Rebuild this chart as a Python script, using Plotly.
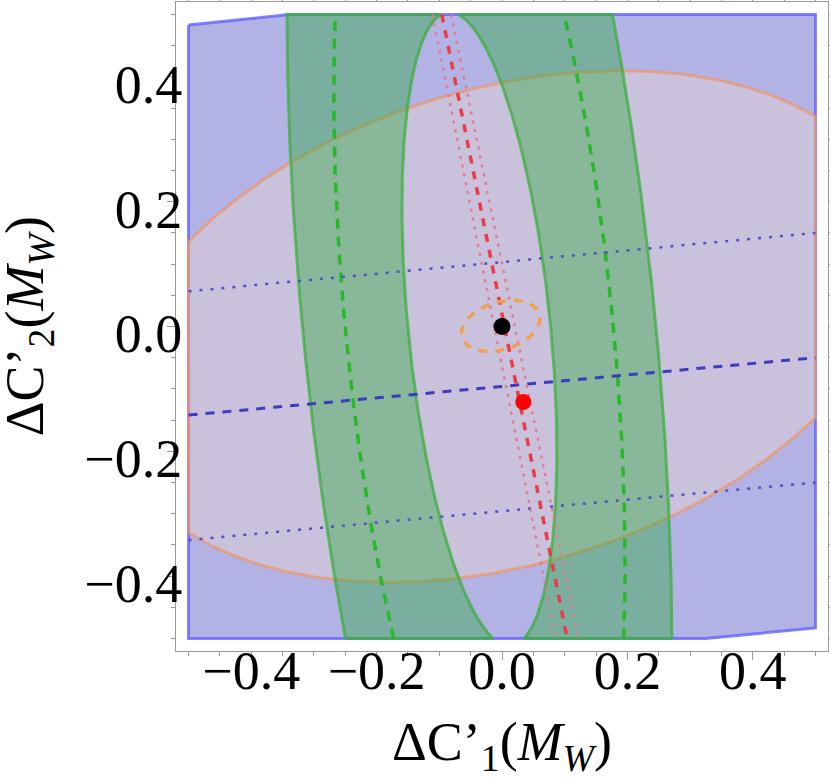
import numpy as np
import plotly.graph_objects as go

# ---------------- data ----------------
x_range = [-0.52, 0.52]
y_range = [-0.52, 0.52]
tick_vals = [-0.4, -0.2, 0.0, 0.2, 0.4]
tick_text = ["\u22120.4", "\u22120.2", "0.0", "0.2", "0.4"]

# blue allowed region (polygon vertices)
blue_x = [-0.5, -0.34, 0.5, 0.5, 0.325, -0.5]
blue_y = [0.483, 0.5, 0.5, -0.483, -0.5, -0.5]

# ellipses: [centre x, centre y, half height H, half width at centre W, conjugate slope k]
orange_big = [0.005, 0.0, 0.41, 0.60, 0.451]
orange_small = [-0.002, 0.001, 0.041, 0.060, 0.451]

green_center = [-0.036, -0.004]
green_slope = -0.094
green_inner = [0.508, 0.114]   # [H, W]
green_mid = [0.964, 0.214]
green_outer = [1.29, 0.282]

# straight lines: x at y = +0.5 and y = -0.5
y_ends = [0.5, -0.5]
red_dash_x = [-0.096, 0.104]
red_dot_lo_x = [-0.111, 0.086]
red_dot_hi_x = [-0.081, 0.122]

# straight lines: y at x = -0.5 and x = +0.5
x_ends = [-0.5, 0.5]
blue_dash_y = [-0.142, -0.05]
blue_dot_hi_y = [0.0565, 0.15]
blue_dot_lo_y = [-0.342, -0.25]

sm_point = [0.0, 0.0]
fit_point = [0.034, -0.121]

BOX = 0.5


def ellipse(p, n=400):
    cx, cy, H, W, k = p
    t = np.linspace(0, 2 * np.pi, n)
    s = np.sin(t)
    return cx + k * H * s + W * np.cos(t), cy + H * s


def chord(cx, cy, H, W, k, y, side):
    s = (y - cy) / H
    return cx + k * (y - cy) + side * W * np.sqrt(np.clip(1 - s ** 2, 0, None))


fig = go.Figure()

# blue region
fig.add_trace(go.Scatter(x=blue_x + [blue_x[0]], y=blue_y + [blue_y[0]], mode="lines",
                         fill="toself", fillcolor="rgba(0,0,170,0.30)",
                         line=dict(color="rgba(90,90,255,0.75)", width=3), hoverinfo="skip"))

# orange / pink ellipse region clipped to the box
ex, ey = ellipse(orange_big)
ex = np.clip(ex, -BOX, BOX)
fig.add_trace(go.Scatter(x=ex, y=ey, mode="lines", fill="toself",
                         fillcolor="rgba(241,218,207,0.38)",
                         line=dict(color="rgba(240,150,100,0.7)", width=3), hoverinfo="skip"))

# green band (between inner and outer ellipses), two pieces
ys = np.linspace(-BOX, BOX, 300)
cx, cy = green_center
k = green_slope
for side in (-1, 1):
    xo = chord(cx, cy, green_outer[0], green_outer[1], k, ys, side)
    xi = chord(cx, cy, green_inner[0], green_inner[1], k, ys, side)
    px = np.concatenate([xo, xi[::-1], xo[:1]])
    py = np.concatenate([ys, ys[::-1], ys[:1]])
    fig.add_trace(go.Scatter(x=px, y=py, mode="lines", fill="toself",
                             fillcolor="rgba(38,168,55,0.40)",
                             line=dict(color="rgba(60,175,60,0.75)", width=3), hoverinfo="skip"))

# green dashed central curves
for side in (-1, 1):
    xm = chord(cx, cy, green_mid[0], green_mid[1], k, ys, side)
    fig.add_trace(go.Scatter(x=xm, y=ys, mode="lines",
                             line=dict(color="rgb(40,185,40)", width=3.5, dash="10px,8px"),
                             hoverinfo="skip"))

# blue dotted and dashed lines
for yy in (blue_dot_hi_y, blue_dot_lo_y):
    fig.add_trace(go.Scatter(x=x_ends, y=yy, mode="lines",
                             line=dict(color="rgb(80,80,200)", width=2.5, dash="3px,8px"),
                             hoverinfo="skip"))
fig.add_trace(go.Scatter(x=x_ends, y=blue_dash_y, mode="lines",
                         line=dict(color="rgb(60,60,190)", width=3, dash="9px,8px"),
                         hoverinfo="skip"))

# red dotted and dashed lines
for xx in (red_dot_lo_x, red_dot_hi_x):
    fig.add_trace(go.Scatter(x=xx, y=y_ends, mode="lines",
                             line=dict(color="rgba(232,115,135,0.9)", width=2.5, dash="3px,6px"),
                             hoverinfo="skip"))
fig.add_trace(go.Scatter(x=red_dash_x, y=y_ends, mode="lines",
                         line=dict(color="rgb(235,60,70)", width=3.5, dash="8px,8px"),
                         hoverinfo="skip"))

# small orange dashed ellipse
sx, sy = ellipse(orange_small)
fig.add_trace(go.Scatter(x=sx, y=sy, mode="lines",
                         line=dict(color="rgb(242,160,80)", width=3.5, dash="9px,8px"),
                         hoverinfo="skip"))

# points
fig.add_trace(go.Scatter(x=[sm_point[0]], y=[sm_point[1]], mode="markers",
                         marker=dict(color="black", size=17), hoverinfo="skip"))
fig.add_trace(go.Scatter(x=[fit_point[0]], y=[fit_point[1]], mode="markers",
                         marker=dict(color="rgb(255,0,0)", size=16), hoverinfo="skip"))

axis_common = dict(tickvals=tick_vals, ticktext=tick_text, ticks="outside", ticklen=8,
                   tickcolor="#999999", tickwidth=1, showline=True, linecolor="#999999",
                   linewidth=1, mirror="allticks", showgrid=False, zeroline=False,
                   automargin=False,
                   tickfont=dict(family="Liberation Serif", size=54, color="black"),
                   minor=dict(ticks="outside", tick0=0, dtick=0.05, ticklen=4,
                              tickcolor="#999999", tickwidth=1))
fig.update_xaxes(range=x_range, ticklabelstandoff=-36, **axis_common)
fig.update_yaxes(range=y_range, ticklabelstandoff=-26, ticklabelshift=7, **axis_common)

fig.update_layout(
    width=830, height=779, autosize=False,
    margin=dict(l=176, r=2, t=2, b=128),
    plot_bgcolor="white", paper_bgcolor="white", showlegend=False,
    font=dict(family="Liberation Serif", size=54, color="black"),
    annotations=[
        dict(text="\u0394C\u2019<sub>1</sub>(<i>M</i><sub><i>W</i></sub>)",
             xref="paper", yref="paper", x=0.5, y=-0.145, xanchor="center", yanchor="middle",
             showarrow=False, font=dict(family="Liberation Serif", size=54, color="black")),
        dict(text="\u0394C\u2019<sub>2</sub>(<i>M</i><sub><i>W</i></sub>)",
             xref="paper", yref="paper", x=-0.226, y=0.5, xanchor="center", yanchor="middle",
             textangle=-90, showarrow=False,
             font=dict(family="Liberation Serif", size=54, color="black")),
    ],
)

fig.write_html("out.html", config={"displayModeBar": False},
               post_script="document.body.style.margin='0px';document.body.style.overflow='hidden';")
